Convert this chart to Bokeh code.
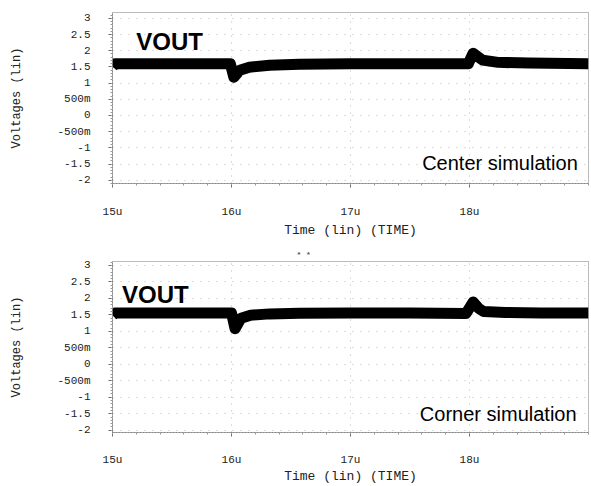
from bokeh.plotting import figure
from bokeh.layouts import column
from bokeh.models import Range1d, FixedTicker, Label
from bokeh.embed import file_html
from bokeh.resources import INLINE

# ---- data ----
time_center = [15.00, 15.02, 15.50, 15.99, 16.02, 16.07, 16.15, 16.32, 16.57,
               17.00, 17.50, 17.99, 18.03, 18.11, 18.24, 18.50, 19.00]
vout_center = [1.50, 1.60, 1.60, 1.60, 1.18, 1.40, 1.49, 1.55, 1.58,
               1.60, 1.60, 1.60, 1.92, 1.71, 1.64, 1.62, 1.60]

time_corner = [15.00, 15.02, 15.50, 16.00, 16.03, 16.08, 16.16, 16.32, 16.57,
               17.00, 17.50, 17.97, 18.03, 18.08, 18.12, 18.30, 18.60, 19.00]
vout_corner = [1.48, 1.56, 1.56, 1.56, 1.08, 1.40, 1.49, 1.53, 1.55,
               1.56, 1.56, 1.54, 1.89, 1.69, 1.60, 1.57, 1.56, 1.56]

x_ticks = [15, 16, 17, 18]
x_tick_labels = ["15u", "16u", "17u", "18u"]
y_ticks = [3, 2.5, 2, 1.5, 1, 0.5, 0, -0.5, -1, -1.5, -2]
y_tick_labels = ["3", "2.5", "2", "1.5", "1", "500m", "0", "-500m", "-1", "-1.5", "-2"]

x_minor = [round(15 + i * 0.2, 2) for i in range(21)]
y_minor = [round(-2.1 + i * 0.1, 2) for i in range(54)]

MONO = "Liberation Mono"
SANS = "Liberation Sans"


def make_panel(t, v, sim_text, height, y0, y1, border_top, vout_pos, sim_pos,
               label_standoff, title_standoff, title_text=""):
    p = figure(width=591, height=height,
               x_range=Range1d(15, 19), y_range=Range1d(y0, y1),
               output_backend="svg", toolbar_location=None,
               min_border_left=112, min_border_right=3,
               min_border_top=border_top, min_border_bottom=0,
               background_fill_color="white", border_fill_color="white",
               title=title_text)
    p.title.text_font_size = "8px"
    p.title.text_font = MONO
    p.title.text_color = "#555555"
    p.title.align = "left"
    p.title.offset = 184
    p.title.standoff = 6

    p.outline_line_color = "#777777"
    p.outline_line_dash = "1 1"
    p.outline_line_width = 1

    # axes
    p.xaxis.ticker = FixedTicker(ticks=x_ticks, minor_ticks=x_minor)
    p.xaxis.major_label_overrides = dict(zip(x_ticks, x_tick_labels))
    p.yaxis.ticker = FixedTicker(ticks=y_ticks, minor_ticks=y_minor)
    p.yaxis.major_label_overrides = dict(zip(y_ticks, y_tick_labels))

    for ax in (p.xaxis[0], p.yaxis[0]):
        ax.axis_line_color = "#888888"
        ax.axis_line_dash = "2 1"
        ax.major_tick_line_color = "#666666"
        ax.minor_tick_line_color = "#999999"
        ax.major_tick_in = 0
        ax.major_tick_out = 4
        ax.minor_tick_in = 0
        ax.minor_tick_out = 2
        ax.major_label_text_font = MONO
        ax.major_label_text_font_size = "11px"
        ax.major_label_text_color = "#222222"
        ax.axis_label_text_font = MONO
        ax.axis_label_text_font_style = "normal"
        ax.axis_label_text_color = "#222222"

    p.xaxis.axis_label = "Time (lin) (TIME)"
    p.xaxis.axis_label_text_font_size = "13px"
    p.xaxis.major_label_standoff = label_standoff
    p.xaxis.axis_label_standoff = title_standoff

    p.yaxis.axis_label = "Voltages (lin)"
    p.yaxis.axis_label_text_font_size = "12px"
    p.yaxis.major_label_standoff = 18
    p.yaxis.axis_label_standoff = 30

    # grid
    p.xgrid.grid_line_color = "#bbbbbb"
    p.xgrid.grid_line_dash = "1 6"
    p.ygrid.grid_line_color = "#bbbbbb"
    p.ygrid.grid_line_dash = "1 7"

    # waveform: thick noisy band rendered as a heavy line
    p.line(t, v, line_color="black", line_width=11, line_join="round", line_cap="butt")

    p.add_layout(Label(x=vout_pos[0], y=vout_pos[1], text="VOUT",
                       text_font=SANS, text_font_style="bold",
                       text_font_size="24px", text_color="black",
                       text_baseline="alphabetic", text_align="left"))
    p.add_layout(Label(x=sim_pos[0], y=sim_pos[1], text=sim_text,
                       text_font=SANS, text_font_size="20px", text_color="black",
                       text_baseline="alphabetic", text_align="right"))
    return p


top = make_panel(time_center, vout_center, "Center simulation", 240, -2.1, 3.18, 12,
                 (15.2, 2.28), (18.91, -1.48), 18, 2)
bottom = make_panel(time_corner, vout_corner, "Corner simulation", 246, -2.07, 3.12, 21,
                    (15.08, 2.13), (18.9, -1.52), 17, 0, title_text="* *")

layout = column(top, bottom, spacing=0)
open("out.html", "w").write(file_html(layout, INLINE))
